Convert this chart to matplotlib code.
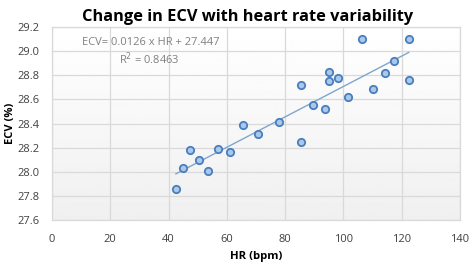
import matplotlib
matplotlib.use("Agg")
import matplotlib.pyplot as plt
import numpy as np

hr = [42.5, 44.9, 47.5, 50.4, 53.7, 57.0, 61.1, 65.6, 70.7, 77.9, 85.4, 85.4,
      89.5, 93.7, 95.0, 95.0, 98.2, 101.4, 106.3, 110.0, 114.2, 117.4, 122.4, 122.4]
ecv = [27.86, 28.03, 28.18, 28.10, 28.01, 28.19, 28.16, 28.385, 28.31, 28.41, 28.245, 28.72,
       28.555, 28.52, 28.83, 28.75, 28.78, 28.62, 29.10, 28.69, 28.82, 28.92, 29.10, 28.76]
slope = 0.0126
intercept = 27.447
eq_text = "ECV= 0.0126 x HR + 27.447"
r2_text = "R$^2$ = 0.8463"
xticks = [0, 20, 40, 60, 80, 100, 120, 140]
yticks = [27.6, 27.8, 28.0, 28.2, 28.4, 28.6, 28.8, 29.0, 29.2]

plt.rcParams['font.family'] = ['Open Sans', 'DejaVu Sans']

fig = plt.figure(figsize=(4.72, 2.65), dpi=100)
ax = fig.add_axes([52/472, 1-220/265, 408/472, 193/265])

# subtle gradient background of plot area
grad = np.linspace(1.0, 0.94, 256).reshape(-1, 1)
ax.imshow(grad, extent=[0, 140, 27.6, 29.2], aspect='auto', cmap='gray',
          vmin=0, vmax=1, zorder=0, origin='upper')

ax.set_xlim(0, 140)
ax.set_ylim(27.6, 29.2)
ax.set_xticks(xticks)
ax.set_yticks(yticks)
ax.set_xticklabels([str(t) for t in xticks])
ax.set_yticklabels([f"{t:.1f}" for t in yticks])
ax.grid(True, color='#d9d9d9', linewidth=0.9, zorder=1)
ax.set_axisbelow(True)
for s in ax.spines.values():
    s.set_color('#d9d9d9')
    s.set_linewidth(0.9)
ax.tick_params(axis='x', length=0, labelsize=8, colors='#404040', pad=10)
ax.tick_params(axis='y', length=0, labelsize=8, colors='#404040', pad=9)

xs = np.array([min(hr), max(hr)])
ax.plot(xs, slope*xs + intercept, color='#7fa6cc', linewidth=1.0, zorder=3)
ax.scatter(hr, ecv, s=28, facecolor='#a9c8ec', edgecolor='#4a7ebb', linewidth=1.3, zorder=4)

ax.text(34.0, 29.07, eq_text, fontsize=8, color='#808080', ha='center', va='center', zorder=5)
ax.text(33.3, 28.935, r2_text, fontsize=8, color='#808080', ha='center', va='center', zorder=5)

fig.text(248/472, 1-17/265, "Change in ECV with heart rate variability", ha='center', va='center',
         fontsize=11.8, fontweight='bold', color='#000000')
fig.text(256/472, 1-256/265, "HR (bpm)", ha='center', va='center', fontsize=8.2, fontweight='bold')
fig.text(10/472, 1-123/265, "ECV (%)", ha='center', va='center', fontsize=8, fontweight='bold', rotation=90)

fig.savefig("out.png", dpi=100, facecolor='white')
